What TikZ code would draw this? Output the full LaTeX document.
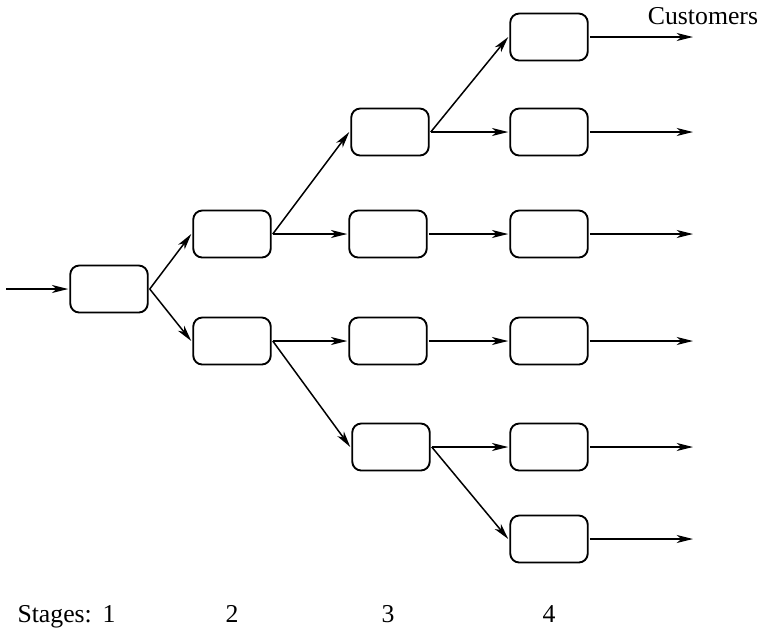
\documentclass[tikz,border=0pt]{standalone}
\usepackage{fontspec}
\setmainfont{Liberation Serif}
\usetikzlibrary{arrows.meta}
\tikzset{
  stagebox/.style={draw,line width=0.75pt,rounded corners=3.6pt,minimum width=31pt,minimum height=18.8pt,inner sep=0pt,outer sep=0.8pt},
  flow/.style={line width=0.6pt,-{Stealth[length=6.5pt,width=3.2pt,inset=1.8pt]}},
}
\begin{document}
\begin{tikzpicture}[x=0.4pt,y=-0.4pt,font=\fontsize{10.3}{12}\selectfont]
\useasboundingbox (0,0) rectangle (761,629);
% boxes, stage by stage
\coordinate (in) at (6,289);
\node[stagebox] (b1) at (109,289) {};
\node[stagebox] (b21) at (232,234) {};
\node[stagebox] (b22) at (232,341) {};
\foreach \i/\x/\y in {1/390/132,2/388/234,3/388/341,4/391/447}
  \node[stagebox] (b3\i) at (\x,\y) {};
\foreach \i/\y in {1/37,2/132,3/234,4/341,5/447,6/539}
  \node[stagebox] (b4\i) at (549,\y) {};
% flows between the stages
\draw[flow] (in) -- (b1.west);
\foreach \a/\b in {b1/b21,b1/b22,b21/b31,b21/b32,b22/b33,b22/b34,
                   b31/b41,b31/b42,b32/b43,b33/b44,b34/b45,b34/b46}
  \draw[flow] (\a.east) -- (\b.west);
% out to the customers
\coordinate (outx) at (693,0);
\foreach \i in {1,...,6}
  \draw[flow] (b4\i.east) -- (b4\i.east -| outx);
\node[anchor=base] (cust) at (703,24) {Customers};
% stage numbers along the bottom
\coordinate (stagerow) at (0,622);
\node[anchor=base west,inner sep=0pt] (stg) at (17,622) {Stages:};
\foreach \s/\b in {1/b1,2/b21,3/b32,4/b43}
  \node[anchor=base] (n\s) at (\b |- stagerow) {\s};
\end{tikzpicture}
\end{document}
